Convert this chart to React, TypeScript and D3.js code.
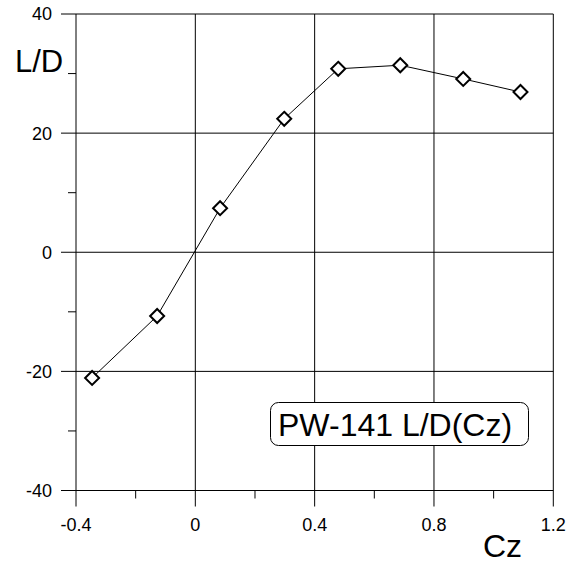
import React, { useEffect, useRef } from "react"
import * as d3 from "d3"

const cz = [-0.346, -0.128, 0.083, 0.298, 0.479, 0.687, 0.898, 1.09]
const ld = [-21.1, -10.7, 7.4, 22.4, 30.8, 31.4, 29.1, 26.9]
const xTicks = [-0.4, 0, 0.4, 0.8, 1.2]
const xMinor = [-0.2, 0.2, 0.6, 1.0]
const yTicks = [-40, -20, 0, 20, 40]
const yMinor = [-30, -10, 10, 30]
const title = "PW-141 L/D(Cz)"

function App() {
    const svgRef = useRef<SVGSVGElement>(null)

    useEffect(() => {
        const width = 580
        const height = 565
        const font = "Arial, 'Liberation Sans', sans-serif"

        const svg = d3.select(svgRef.current)
        svg.selectAll("*").remove()
        svg.attr("width", width).attr("height", height)

        const x = d3.scaleLinear().domain([-0.4, 1.2]).range([76, 553.3])
        const y = d3.scaleLinear().domain([-40, 40]).range([490.5, 14])

        const grid = svg.append("g").attr("stroke", "#000").attr("stroke-width", 1)

        // horizontal grid lines, running out as ticks on the left
        grid.selectAll("line.h")
            .data(yTicks)
            .join("line")
            .attr("x1", x(-0.4) - 15)
            .attr("x2", x(1.2))
            .attr("y1", (d) => y(d))
            .attr("y2", (d) => y(d))

        // vertical grid lines, running out as ticks below
        grid.selectAll("line.v")
            .data(xTicks)
            .join("line")
            .attr("x1", (d) => x(d))
            .attr("x2", (d) => x(d))
            .attr("y1", y(40))
            .attr("y2", y(-40) + 16)

        grid.append("g")
            .selectAll("line")
            .data(yMinor)
            .join("line")
            .attr("x1", x(-0.4) - 8)
            .attr("x2", x(-0.4))
            .attr("y1", (d) => y(d))
            .attr("y2", (d) => y(d))

        grid.append("g")
            .selectAll("line")
            .data(xMinor)
            .join("line")
            .attr("x1", (d) => x(d))
            .attr("x2", (d) => x(d))
            .attr("y1", y(-40))
            .attr("y2", y(-40) + 8)

        svg.append("g")
            .selectAll("text")
            .data(yTicks)
            .join("text")
            .attr("x", 52)
            .attr("y", (d) => y(d))
            .attr("dy", "0.36em")
            .attr("text-anchor", "end")
            .attr("font-family", font)
            .attr("font-size", 18)
            .text((d) => String(d))

        svg.append("g")
            .selectAll("text")
            .data(xTicks)
            .join("text")
            .attr("x", (d) => x(d))
            .attr("y", 531)
            .attr("text-anchor", "middle")
            .attr("font-family", font)
            .attr("font-size", 18)
            .text((d) => String(d))

        svg.append("text")
            .attr("x", 15)
            .attr("y", 72)
            .attr("font-family", font)
            .attr("font-size", 31)
            .text("L/D")

        svg.append("text")
            .attr("x", 483)
            .attr("y", 557)
            .attr("font-family", font)
            .attr("font-size", 32)
            .text("Cz")

        const pts = cz.map((d, i) => [d, ld[i]] as [number, number])

        const line = d3.line<[number, number]>()
            .x((d) => x(d[0]))
            .y((d) => y(d[1]))

        svg.append("path")
            .datum(pts)
            .attr("d", line)
            .attr("fill", "none")
            .attr("stroke", "#000")
            .attr("stroke-width", 1)

        const r = 7
        svg.append("g")
            .selectAll("path")
            .data(pts)
            .join("path")
            .attr("transform", (d) => `translate(${x(d[0])},${y(d[1])})`)
            .attr("d", `M0,${-r}L${r},0L0,${r}L${-r},0Z`)
            .attr("fill", "#fff")
            .attr("stroke", "#000")
            .attr("stroke-width", 2)

        // title box
        const box = svg.append("g")
        box.append("rect")
            .attr("x", 270.5)
            .attr("y", 402.5)
            .attr("width", 258)
            .attr("height", 43)
            .attr("rx", 8)
            .attr("fill", "#fff")
            .attr("stroke", "#000")
            .attr("stroke-width", 1)
        box.append("text")
            .attr("x", 278)
            .attr("y", 436)
            .attr("font-family", font)
            .attr("font-size", 32)
            .text(title)
    }, [])

    return (
        <svg ref={svgRef} style={{ position: "absolute", left: 0, top: 0 }} />
    )
}

export default App
